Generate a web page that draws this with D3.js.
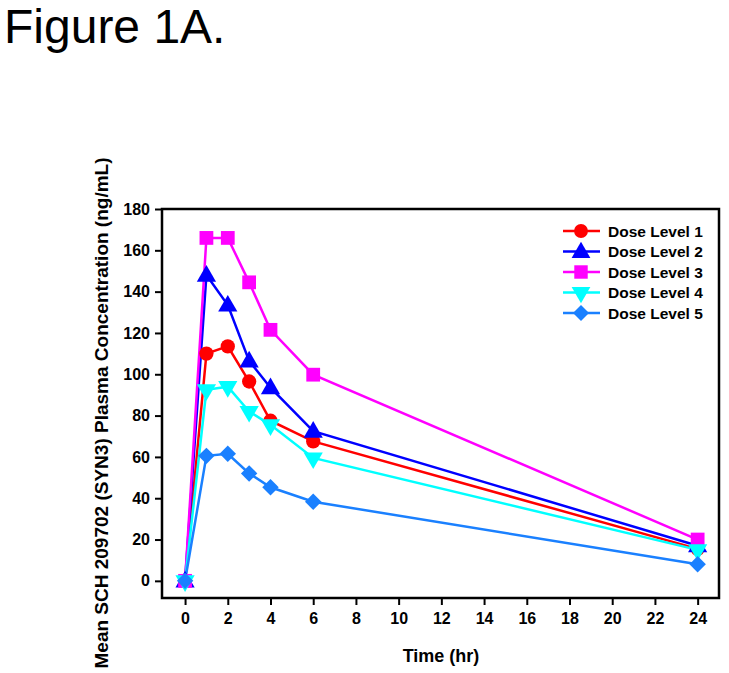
<!DOCTYPE html>
<html><head><meta charset="utf-8">
<script src="https://cdn.jsdelivr.net/npm/d3@7"></script>
<style>body{margin:0;background:#fff;}svg{display:block;font-family:Arial,"Liberation Sans",sans-serif;}</style>
</head><body><svg id="c" width="729" height="673"></svg>
<script>
const times = [0, 1, 2, 3, 4, 6, 24];
const seriesNames = ["Dose Level 1", "Dose Level 2", "Dose Level 3", "Dose Level 4", "Dose Level 5"];
const dose1 = [0, 110, 113.5, 96.5, 77.5, 67.5, 15.5];
const dose2 = [0, 148, 133.5, 106.5, 93.5, 72.5, 17];
const dose3 = [0, 166, 166, 144.5, 121.5, 99.8, 20];
const dose4 = [0, 92.5, 94, 82, 75.5, 59.5, 15];
const dose5 = [0, 60.5, 61.5, 52, 45.3, 38.3, 8];
const xTicks = [0, 2, 4, 6, 8, 10, 12, 14, 16, 18, 20, 22, 24];
const yTicks = [0, 20, 40, 60, 80, 100, 120, 140, 160, 180];
const colors = ["#ff0000", "#0000ff", "#ff00ff", "#00ffff", "#1a80ff"];
const shapes = ["circle", "tri-up", "square", "tri-down", "diamond"];
const sizes = [160, 160, 190, 160, 135];
const allSeries = [dose1, dose2, dose3, dose4, dose5];

const svg = d3.select("#c");
const pLeft = 162, pRight = 719, pTop = 209, pBottom = 598;
const x = d3.scaleLinear().domain([-1.08, 25]).range([pLeft, pRight]);
const y = d3.scaleLinear().domain([-8.3, 180]).range([pBottom, pTop]);

svg.append("text").attr("x", 4).attr("y", 43).attr("font-size", 48).attr("fill", "#000").text("Figure 1A.");

function symPath(i, scale) {
  const s = shapes[i];
  const sz = sizes[i] * (scale || 1);
  const type = s === "circle" ? d3.symbolCircle : (s === "square" || s === "diamond") ? d3.symbolSquare : d3.symbolTriangle;
  return d3.symbol(type, sz)();
}
function symTransform(i, px, py) {
  let t = `translate(${px},${py})`;
  if (shapes[i] === "tri-down") t += " rotate(180)";
  else if (shapes[i] === "tri-up") t += " translate(0,1)";
  else if (shapes[i] === "diamond") t += " rotate(45)";
  return t;
}

// axes
const yAxis = d3.axisLeft(y).tickValues(yTicks).tickSize(7).tickPadding(5).tickSizeOuter(0);
const gy = svg.append("g").attr("transform", `translate(${pLeft},0)`).call(yAxis);
const xAxis = d3.axisBottom(x).tickValues(xTicks).tickSize(7).tickPadding(8).tickSizeOuter(0);
const gx = svg.append("g").attr("transform", `translate(0,${pBottom})`).call(xAxis);
[gx, gy].forEach(g => {
  g.select(".domain").remove();
  g.selectAll(".tick line").attr("stroke", "#000").attr("stroke-width", 2);
  g.selectAll(".tick text").attr("font-size", 16).attr("font-weight", "bold").attr("fill", "#000")
    .attr("font-family", "Arial, 'Liberation Sans', sans-serif");
});

// lines and markers
const line = d3.line().x((d, i) => x(times[i])).y(d => y(d));
allSeries.forEach((vals, si) => {
  svg.append("path").datum(vals).attr("d", line).attr("fill", "none")
    .attr("stroke", colors[si]).attr("stroke-width", 2.5);
});
allSeries.forEach((vals, si) => {
  const g = svg.append("g");
  g.selectAll("path").data(vals).join("path")
    .attr("d", () => symPath(si))
    .attr("transform", (d, i) => symTransform(si, x(times[i]), y(d)))
    .attr("fill", colors[si]);
});

// frame
svg.append("rect").attr("x", pLeft).attr("y", pTop).attr("width", pRight - pLeft).attr("height", pBottom - pTop)
  .attr("fill", "none").attr("stroke", "#000").attr("stroke-width", 2.5);

// legend
const lg = svg.append("g");
seriesNames.forEach((name, i) => {
  const cy = 231 + i * 20.5;
  lg.append("line").attr("x1", 563).attr("x2", 600).attr("y1", cy).attr("y2", cy)
    .attr("stroke", colors[i]).attr("stroke-width", 2.5);
  lg.append("path").attr("d", symPath(i, 0.95)).attr("transform", symTransform(i, 581, cy)).attr("fill", colors[i]);
  lg.append("text").attr("x", 608).attr("y", cy + 5.5).attr("font-size", 15.5).attr("font-weight", "bold")
    .attr("fill", "#000").text(name);
});

// axis titles
svg.append("text").attr("x", 441).attr("y", 662).attr("text-anchor", "middle")
  .attr("font-size", 18).attr("font-weight", "bold").text("Time (hr)");
svg.append("text").attr("transform", "translate(108,413) rotate(-90)").attr("text-anchor", "middle")
  .attr("font-size", 19).attr("font-weight", "bold").text("Mean SCH 209702 (SYN3) Plasma Concentration (ng/mL)");
</script></body></html>
